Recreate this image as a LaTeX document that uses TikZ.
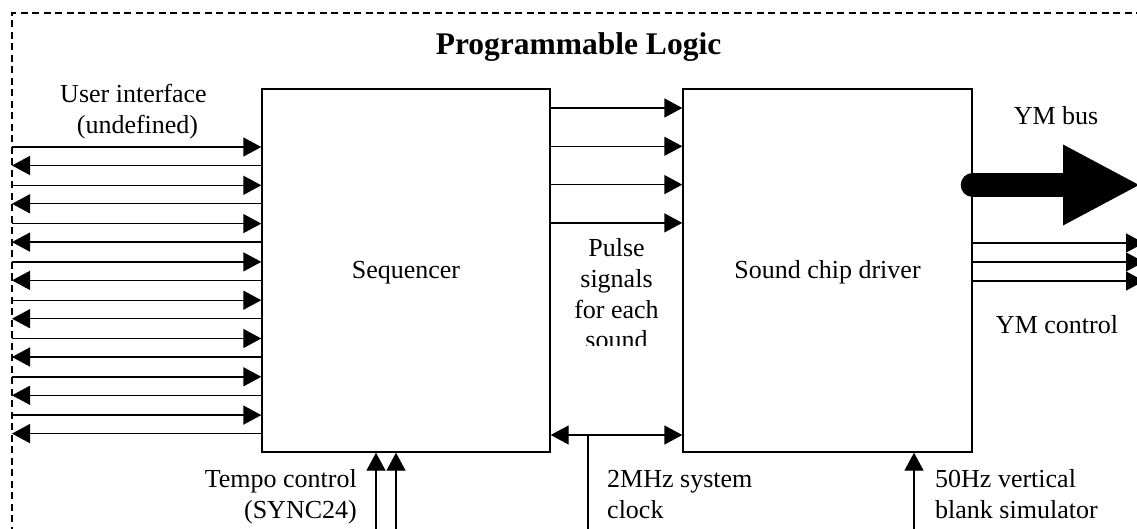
\documentclass[tikz,border=0pt]{standalone}
\usepackage{fontspec}
\setmainfont{Liberation Serif}
\usetikzlibrary{arrows.meta}
\newcommand\lblfont{\fontsize{26}{30.5}\selectfont}
\begin{document}
\begin{tikzpicture}[x=1pt,y=-1pt,
  box/.style={draw, line width=1.4pt, inner sep=0pt, font=\lblfont, text height=17pt, text depth=0pt},
  sig/.style={line width=1.4pt, -{Triangle[length=18pt,width=19pt]}},
  bisig/.style={line width=1.4pt, {Triangle[length=18pt,width=19pt]}-{Triangle[length=18pt,width=19pt]}},
  wire/.style={line width=1.4pt},
  bus/.style={line width=24pt, line cap=round, -{Triangle[length=76pt,width=81pt,line width=0pt]}},
  lbl/.style={font=\lblfont, inner sep=0pt},
  title/.style={font=\bfseries\fontsize{31.5}{36}\selectfont, inner sep=0pt},
  frame/.style={line width=1.3pt, dash pattern=on 7pt off 4.5pt}]
\useasboundingbox (0,0) rectangle (1137,529);
\clip (0,0) rectangle (1137,529);

% dashed frame of the programmable logic
\draw[frame] (12,545) -- (12,13) -- (1150,13);
\node[title, anchor=base] (ttl) at (578.5,55) {Programmable Logic};

% blocks
\node[box, minimum width=288pt, minimum height=363pt] (seq) at (406,270.5) {Sequencer};
\node[box, minimum width=289pt, minimum height=363pt] (scd) at (827.5,270.5) {Sound chip driver};

% user interface lines
\foreach \i in {0,...,7} {
  \pgfmathsetmacro\yr{147+38.3*\i}
  \pgfmathsetmacro\yl{\yr+18.5}
  \coordinate (uiout\i) at (12,\yr);
  \coordinate (uiin\i) at (12,\yl);
  \draw[sig] (uiout\i) -- (uiout\i -| seq.west);
  \draw[sig] (uiin\i -| seq.west) -- (uiin\i);
}
\node[lbl, anchor=base] (ui1) at (133.5,103) {User interface};
\node[lbl, anchor=base] (ui2) at (137.5,134) {(undefined)};

% pulse signals
\foreach \i/\y in {0/108,1/146.3,2/184.6,3/222.9} {
  \coordinate (p\i) at (550,\y);
  \draw[sig] (p\i) -- (p\i -| scd.west);
}
\begin{scope}
  \clip (551,230) rectangle (682,345.5);
  \node[lbl, anchor=base] (ps1) at (616.5,257) {Pulse};
  \node[lbl, anchor=base] (ps2) at (616.5,287.5) {signals};
  \node[lbl, anchor=base] (ps3) at (616.5,318) {for each};
  \node[lbl, anchor=base] (ps4) at (616.5,348.5) {sound};
\end{scope}

% system clock
\coordinate (clk) at (588,435);
\coordinate (clkin) at (588,545);
\draw[bisig] (clk -| seq.east) -- (clk -| scd.west);
\draw[wire] (clkin) -- (clk);
\node[lbl, anchor=base west] (ck1) at (607,487) {2MHz system};
\node[lbl, anchor=base west] (ck2) at (607,518) {clock};

% tempo control
\coordinate (tc1) at (376,545);
\coordinate (tc2) at (396,545);
\draw[sig] (tc1) -- (tc1 |- seq.south);
\draw[sig] (tc2) -- (tc2 |- seq.south);
\node[lbl, anchor=base east] (tp1) at (357,487) {Tempo control};
\node[lbl, anchor=base east] (tp2) at (357,518) {(SYNC24)};

% vertical blank
\coordinate (vb) at (914,545);
\draw[sig] (vb) -- (vb |- scd.south);
\node[lbl, anchor=base west] (vb1) at (935,487) {50Hz vertical};
\node[lbl, anchor=base west] (vb2) at (935,518) {blank simulator};

% YM bus
\coordinate (ymb) at (1139,185);
\draw[bus] (ymb -| scd.east) -- (ymb);
\node[lbl, anchor=base] (ymbl) at (1056,125) {YM bus};

% YM control
\foreach \i/\y in {0/243,1/262,2/281} {
  \coordinate (yc\i) at (1144,\y);
  \draw[sig] (yc\i -| scd.east) -- (yc\i);
}
\node[lbl, anchor=base] (ycl) at (1057,333) {YM control};
\end{tikzpicture}
\end{document}
